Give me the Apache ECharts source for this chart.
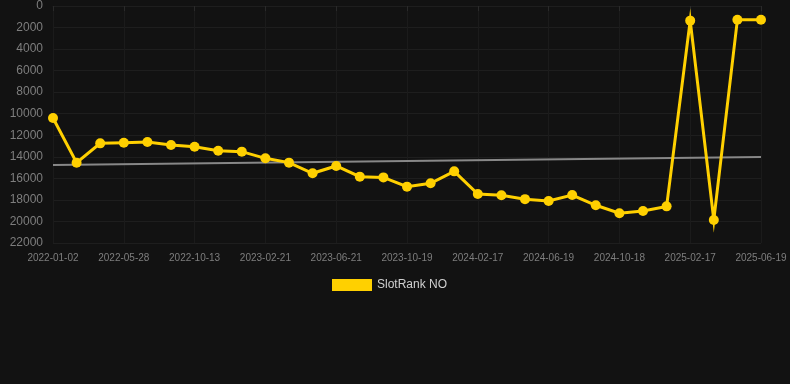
<!DOCTYPE html>
<html><head><meta charset="utf-8">
<script src="https://cdn.jsdelivr.net/npm/echarts@6/dist/echarts.min.js"></script>
<style>html,body{margin:0;padding:0;background:#121212;}#c{width:790px;height:384px;}</style>
</head><body><div id="c"></div>
<script>
const categories = [
 "2022-01-02","2022-02-20","2022-04-09","2022-05-28","2022-07-14","2022-08-29",
 "2022-10-13","2022-11-26","2023-01-08","2023-02-21","2023-04-01","2023-05-11",
 "2023-06-21","2023-07-31","2023-09-09","2023-10-19","2023-11-28","2024-01-07",
 "2024-02-17","2024-03-28","2024-05-09","2024-06-19","2024-07-29","2024-09-07",
 "2024-10-18","2024-11-27","2025-01-07","2025-02-17","2025-03-29","2025-05-09",
 "2025-06-19"
];
const rankValues = [
 10400, 14550, 12750, 12690, 12620, 12900, 13060, 13430, 13520, 14140,
 14540, 15530, 14850, 15840, 15910, 16770, 16460, 15350, 17450, 17570,
 17930, 18100, 17550, 18500, 19240, 19030, 18600, 1360, 19860, 1270, 1270
];
const trendValues = [14760].concat(new Array(29).fill(null)).concat([14020]);
const yTicks = [0,2000,4000,6000,8000,10000,12000,14000,16000,18000,20000,22000];

const chart = echarts.init(document.getElementById('c'));
chart.setOption({
  backgroundColor: '#121212',
  animation: false,
  grid: {left: 53, right: 29, top: 6, bottom: 141},
  legend: {
    bottom: 88, left: 327,
    data: [{name: 'SlotRank NO', icon: 'rect'}],
    itemWidth: 40, itemHeight: 12,
    textStyle: {color: '#d0d0d0', fontSize: 12, fontFamily: 'Liberation Sans, Arial, sans-serif'}
  },
  xAxis: {
    type: 'category', data: categories, boundaryGap: false,
    axisLine: {show: true, lineStyle: {color: '#1e1e1e'}},
    axisTick: {show: true, interval: 2, lineStyle: {color: '#2a2a2a'}},
    axisLabel: {interval: 2, color: '#7e7e7e', fontSize: 10, margin: 10, fontFamily: 'Liberation Sans, Arial, sans-serif'},
    splitLine: {show: true, interval: 2, lineStyle: {color: '#1b1b1b'}}
  },
  yAxis: {
    type: 'value', inverse: true, min: yTicks[0], max: yTicks[yTicks.length-1], interval: 2000,
    axisLine: {show: false}, axisTick: {show: false},
    axisLabel: {color: '#7e7e7e', fontSize: 12, margin: 10, fontFamily: 'Liberation Sans, Arial, sans-serif',
      formatter: function (v) { return String(v); }},
    splitLine: {show: true, lineStyle: {color: '#1e1e1e'}}
  },
  series: [
    {
      name: 'SlotRank NO', type: 'line', data: rankValues,
      symbol: 'circle', symbolSize: 10,
      itemStyle: {color: '#FFD000'},
      lineStyle: {color: '#FFD000', width: 3, join: 'miter', miterLimit: 10},
      z: 3
    },
    {
      name: 'trend', type: 'line', data: trendValues, connectNulls: true,
      symbol: 'none', lineStyle: {color: '#888888', width: 2}, z: 2,
      tooltip: {show: false}
    }
  ]
});
</script></body></html>
